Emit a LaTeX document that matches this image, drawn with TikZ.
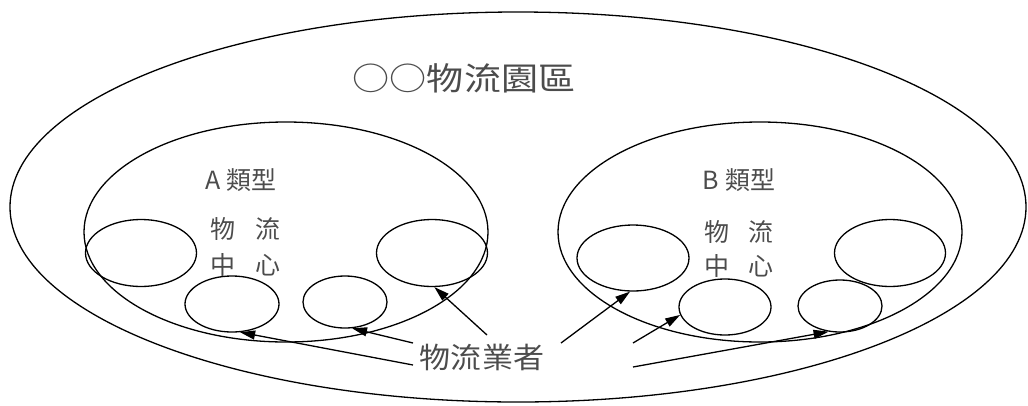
\documentclass[tikz,border=0pt]{standalone}
\usepackage{fontspec}
\newfontfamily\cjk{Noto Sans CJK TC}
\usetikzlibrary{shapes.geometric,arrows.meta}
\begin{document}
\begin{tikzpicture}[x=1pt,y=-1pt,
  oval/.style={draw=black,line width=1.3pt,ellipse,inner sep=0pt},
  lbl/.style={text=black!70,inner sep=0pt,font=\cjk},
  conn/.style={draw=black,line width=1.3pt,-{Triangle[length=15pt,width=9pt]}}]
\useasboundingbox (0,0) rectangle (1028,405);
% outer park
\node[oval,minimum width=1016pt,minimum height=390pt] (park) at (518,207) {};
% type A and type B
\node[oval,minimum width=404pt,minimum height=220pt] (typeA) at (286,232) {};
\node[oval,minimum width=404pt,minimum height=220pt] (typeB) at (760,232) {};
% small ellipses in A
\node[oval,minimum width=111pt,minimum height=67pt] (A1) at (141,253) {};
\node[oval,minimum width=94pt,minimum height=56pt] (A2) at (232,304) {};
\node[oval,minimum width=84pt,minimum height=52pt] (A3) at (345,302) {};
\node[oval,minimum width=111pt,minimum height=67pt] (A4) at (432,253) {};
% small ellipses in B
\node[oval,minimum width=112pt,minimum height=66pt] (B1) at (633,258) {};
\node[oval,minimum width=92pt,minimum height=56pt] (B2) at (725,307) {};
\node[oval,minimum width=84pt,minimum height=52pt] (B3) at (840,306) {};
\node[oval,minimum width=111pt,minimum height=67pt] (B4) at (890,253) {};
% texts
\node[lbl,font=\cjk\fontsize{32}{36}\selectfont] (title) at (464,78) {\scalebox{1.16}[1]{○○物流園區}};
\node[lbl,font=\cjk\fontsize{25}{28}\selectfont] (labA) at (241,180) {A 類型};
\node[lbl,font=\cjk\fontsize{25}{28}\selectfont] (labB) at (739,180) {B 類型};
\node[lbl,font=\cjk\fontsize{25}{27}\selectfont] (a1) at (223,229) {物};
\node[lbl,font=\cjk\fontsize{25}{27}\selectfont] (a2) at (268,229) {流};
\node[lbl,font=\cjk\fontsize{25}{27}\selectfont] (a3) at (223,265) {中};
\node[lbl,font=\cjk\fontsize{25}{27}\selectfont] (a4) at (268,265) {心};
\node[lbl,font=\cjk\fontsize{25}{27}\selectfont] (b1) at (717,232) {物};
\node[lbl,font=\cjk\fontsize{25}{27}\selectfont] (b2) at (761,232) {流};
\node[lbl,font=\cjk\fontsize{25}{27}\selectfont] (b3) at (717,266) {中};
\node[lbl,font=\cjk\fontsize{25}{27}\selectfont] (b4) at (761,266) {心};
\node[lbl,font=\cjk\fontsize{29}{32}\selectfont] (op) at (482,357) {\scalebox{1.07}[1]{物流業者}};
% connector start points
\coordinate (sA2) at (413,365);
\coordinate (sA3) at (413,343);
\coordinate (sA4) at (487,335);
\coordinate (sB1) at (561,343);
\coordinate (sB2) at (633,343);
\coordinate (sB3) at (633,367);
% connectors
\draw[conn] (sA2) -- (A2.-74);
\draw[conn] (sA3) -- (A3.-75);
\draw[conn] (sA4) -- (A4.-86);
\draw[conn] (sB1) -- (B1.-95);
\draw[conn] (sB2) -- (B2.190);
\draw[conn] (sB3) -- (B3.-114);
\end{tikzpicture}
\end{document}
